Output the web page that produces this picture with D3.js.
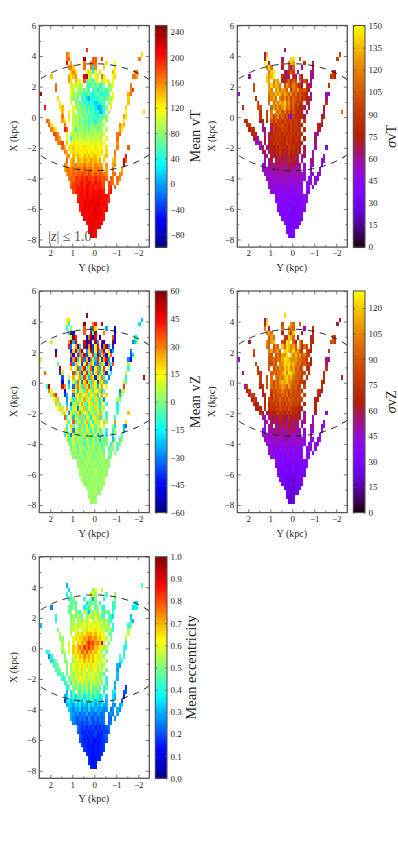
<!DOCTYPE html>
<html><head><meta charset="utf-8">
<script src="https://cdn.jsdelivr.net/npm/d3@7"></script>
<style>html,body{margin:0;background:#fff}svg{display:block}text{font-family:"Liberation Serif",serif;fill:#222}</style>
</head><body><svg id="c" width="398" height="865"></svg>
<script>
// Map bins: X rows start at row 2, Y columns are 0.1 kpc wide, X rows 0.29 kpc tall.
const firstRow=2;
const rowStarts=[[23],[22],[22],[21],[20],[19],[18],[18],[17],[17],[15,31],[14,31,34],[14,31,35],[13,32,35],[12,33,36],[11,33,37],[11,33,38],[12,33,38],[12,34,39],[11,34],[10,35,40],[8,35],[7,12,35],[6,12,35],[5,11,14,36],[4,11,13,36],[3,10,13,38],[10,13,38],[10,13,15,39,47],[2,9,15,39],[9,14,40],[8,14,40],[0,14,40],[7,14,24,41],[7,14,21,31,41],[13,20,28],[5,13,20,28,33,42],[14,21,27,33,43],[13,20,23,29,34],[12,14,20,23,30,34],[12,20,24,28,45],[12,46],[21]];
// Bins left empty in every panel: [row, column]
const emptyBins=[[35,16],[35,33],[34,32],[33,18],[32,15],[32,30],[31,31],[30,16],[30,30],[29,14],[29,31],[28,14],[28,29],[27,13],[27,14],[27,30],[26,14],[26,29],[25,13],[25,30],[24,13],[24,29],[23,11],[23,13],[23,30],[22,12],[22,29],[21,13],[21,29],[20,14],[20,28],[19,13],[19,16],[19,28],[18,13],[18,29],[17,29],[37,15],[37,32],[38,24]];

const meanVT=[
[[205,210,205]],
[[210,212,208,205]],
[[205,212,215,210,208,205]],
[[210,208,215,212,210,205,212,208]],
[[212,205,215,208,210,214,206,212,205,200]],
[[205,210,214,205,212,208,215,205,210,212,200]],
[[195,205,212,208,215,205,210,220,206,212,204,198,205]],
[[205,200,212,205,210,215,206,212,225,210,205,214,200]],
[[200,205,198,210,212,204,215,208,205,215,210,203,208,200,195]],
[[190,205,210,200,214,205,198,212,206,208,215,200,205,210,190]],
[[180,195,205,198,208,200,210,204,195,212,205,200,208,203,198],[190,205]],
[[175,188,192,200,195,205,190,208,200,195,205,188,200,196,190,185],[180,195],[170]],
[[170,180,195,185,198,205,190,200,210,195,188,205,192,198,185,178],[185,175,170],[165]],
[[165,175,170,185,190,180,195,188,200,185,192,178,195,182,190,175,180,170],[175,165],[170,160]],
[[155,170,165,175,168,180,172,185,178,170,190,175,165,182,170,178,172,165,160],[165,170],[160,155]],
[[150,165,170,160,172,158,175,165,155,180,160,168,172,150,165,170,158,162,155,150],[165],[150]],
[[165,150,160,145,155,165,148,158,150,165,145,155,160,140,165,150,155,148,150,155],[145,160],[225]],
[[175,150,140,155,135,150,142,130,150,145,135,155,140,148,130,150,145,135],[140,150],[230,175]],
[[150,160,130,145,125,140,135,120,140,128,145,125,135,140,120,130,135,125,140],[160],[205]],
[[165,145,135,125,130,120,135,115,128,122,135,118,125,130,115,128,120,135,125,130],[165]],
[[170,150,160,130,125,135,118,128,110,122,130,115,125,108,120,128,112,122,118,125,130],[165],[175]],
[[160,175,185,150,135,125,115,105,120,110,122,100,115,108,120,95,112,105,118,100,110,115,120],[155]],
[[175,165,150],[115,105,50,95,110,90,105,100,85,98,110,88,100,95,105,90,100,110,115],[170]],
[[190,175,160],[110,95,100,85,105,80,95,90,75,100,85,92,78,95,88,100,85,105,110],[165,175]],
[[165,140,120],[200,175],[95,105,40,90,80,95,70,85,60,88,75,92,65,80,90,75,95],[150,130]],
[[175,130],[165],[125,110,95,100,85,75,90,65,80,55,72,85,60,78,70,85,95,105],[160,130,145]],
[[175,160],[150,130],[120,105,90,80,95,70,85,60,75,50,68,55,30,72,60,85,70,90],[125]],
[[165],[130,110,95,85,100,70,90,62,75,55,70,45,60,35,65,50,72,80,95],[150,130]],
[[140],[125],[105,85,70,95,60,80,50,70,45,65,35,50,5,15,40,70,90],[120],[130]],
[[200],[125,140],[110,90,75,85,60,75,45,70,40,60,30,5,0,25,50,75,95,110],[130]],
[[125],[105,85,70,90,55,70,40,65,30,50,40,15,25,45,55,60,75,85,105],[140]],
[[135],[100,80,90,65,75,50,60,20,5,45,30,55,40,60,70,50,65,85,90,110],[135]],
[[230],[110,85,95,70,80,60,45,55,65,50,35,55,70,45,30,60,50,75,85,115],[150,170]],
[[175],[115,95,85,100,75,90,65,80,55],[40,70,25,65,55,75,45,80,85,100],[165,185]],
[[170],[130,105,95,110,85,100],[65,45,70,80,55,90,30,60,85],[75,95,110],[165]],
[[155,130,115,140,110,125],[175,60,85,70,40,95,120],[135,100,110,125,105,115]],
[[140],[150,125,140,155],[215,235,110,85,65,120,95],[165,130],[120,135],[170,165,150]],
[[140,160,130],[115,135,100,40,125],[130],[145,120],[165,170]],
[[155,165,135],[170],[165,20,160],[135],[125]],
[[210],[150],[165],[165,175,170],[130],[120]],
[[165,170],[240],[170,175],[185],[165]],
[[170,145],[130]],
[[190]]];

const sigmaVT=[
[[35,32,36]],
[[36,33,32,38]],
[[38,35,33,34,36,38]],
[[40,37,34,35,33,36,35,40]],
[[40,38,36,34,37,35,36,34,38,42]],
[[42,40,36,38,35,37,34,38,36,40,44]],
[[44,40,38,42,36,40,38,35,40,37,42,38,45]],
[[45,42,40,38,43,37,40,42,38,41,36,44,46]],
[[48,44,42,40,45,38,42,40,44,38,42,40,44,42,48]],
[[50,46,42,45,40,44,42,46,40,44,41,45,40,46,50]],
[[50,48,45,50,42,46,44,48,50,42,46,44,48,45,50],[45,50]],
[[52,50,48,45,52,46,50,44,55,48,45,52,46,50,48,44],[50,46],[48]],
[[54,52,48,55,46,52,50,58,46,52,50,48,55,50,46,52],[48,52,46],[50]],
[[58,54,50,55,52,60,48,55,50,62,52,48,58,50,55,52,48,50],[46,50],[52,48]],
[[52,58,55,50,60,54,62,52,58,50,65,55,60,52,58,55,62,50,54],[50,45],[48,52]],
[[48,55,60,52,58,65,55,62,50,68,58,55,72,60,52,65,58,55,62,50],[60],[45]],
[[50,52,62,58,65,55,70,60,72,58,68,62,75,58,70,62,55,65,60,52],[55,50],[45]],
[[55,62,58,70,65,72,60,78,65,75,62,82,68,72,60,78,65,58],[60,65],[50,55]],
[[60,68,58,72,65,75,62,82,70,78,65,85,72,68,80,65,75,60,68],[55],[45]],
[[62,65,72,58,78,68,82,72,88,75,80,68,90,75,82,70,85,72,78,65],[50]],
[[58,62,55,70,65,78,72,85,75,90,78,85,72,92,80,88,75,82,70,78,68],[60],[45]],
[[55,50,62,58,68,75,80,72,88,78,92,80,85,75,95,82,88,78,85,80,78,72,70],[65]],
[[72,65,58],[72,80,60,85,78,90,82,88,85,78,92,85,90,80,88,82,85,78,75],[70]],
[[78,82,70],[60,72,85,78,90,82,88,92,85,92,80,90,85,88,78,92,82,85,70],[58,62]],
[[72,85,80],[55,68],[88,60,92,82,90,85,95,88,92,80,95,85,90,82,88,78,82],[78,62]],
[[85,90],[62],[75,88,80,92,85,96,90,100,88,95,82,94,85,92,80,88,78,82],[80,75,68]],
[[80,85],[72,80],[85,92,102,92,106,90,98,85,102,90,88,96,82,92,80,88,75,85],[85]],
[[90],[95,105,118,95,110,122,100,112,90,105,60,55,95,82,88,75,85,70,78],[72,68]],
[[85],[95],[115,105,128,110,122,100,118,95,110,85,100,90,75,88,70,82,65],[75],[110]],
[[85],[95,100],[110,125,115,130,105,125,135,110,120,95,105,85,95,75,85,70,62,72],[72]],
[[95],[108,125,115,130,120,135,125,145,115,125,100,110,90,100,82,90,70,75,62],[85]],
[[85],[110,120,130,115,135,120,110,125,105,120,95,110,100,90,105,85,92,72,80,60],[60]],
[[50],[115,125,120,135,125,140,115,130,120,110,125,100,115,90,105,95,85,78,72,58],[50,58]],
[[95],[130,120,140,125,135,115,130,120,105],[90,115,105,125,100,95,110,85,72,62]],
[[100],[125,140,120,135,130,115],[100,125,110,95,120,105,90,85,72],[80,70,60],[85]],
[[140,130,145,120,135,125],[80,70,95,110,85,105,95],[115,60,100,85,70,60]],
[[60],[140,125,135,150],[85,75,55,70,100,85,60],[100,75],[65,60],[85,95,75]],
[[120,140,145],[70,65,85,105,90],[60],[55,65],[90,85]],
[[120,140,115],[70],[100,55,110],[60],[70]],
[[148],[75],[90],[120,140,130],[85],[70]],
[[65,150],[62],[140,145],[100],[95]],
[[60,135],[95]],
[[65]]];

const meanVZ=[
[[3,2,4]],
[[5,2,3,1]],
[[4,2,3,5,1,2]],
[[2,4,1,3,5,2,3,4]],
[[3,1,4,2,5,3,1,4,2,3]],
[[5,2,4,1,3,6,2,4,1,3,5]],
[[2,5,1,4,3,0,5,2,4,1,3,6,2]],
[[6,2,4,0,5,3,1,6,2,4,0,5,3]],
[[4,0,5,2,6,-1,3,5,1,4,-2,6,2,4,1]],
[[1,5,-2,4,2,6,0,3,5,-1,4,2,7,0,3]],
[[3,-3,6,1,5,-2,4,7,0,3,-3,5,2,6,1],[-5,3]],
[[8,0,4,-4,6,2,-3,5,1,7,-2,4,0,6,3,-5],[2,-6],[4]],
[[-3,6,2,-5,8,1,4,-6,5,0,7,-3,3,6,-4,2],[-8,4,1],[-6]],
[[5,-6,9,2,-4,7,0,-8,6,3,-5,8,1,-3,6,-12,3,0],[-12,4],[-5,2]],
[[10,-8,3,7,-4,10,0,5,-6,9,2,-8,6,-3,10,-20,4,-8,2],[-22,3],[-10,5]],
[[-15,12,-4,-30,15,5,-8,12,-5,8,-6,14,3,-10,9,-22,6,-5,12,-18],[-18],[-8]],
[[18,-10,-25,14,-28,6,20,-8,12,-5,18,2,-12,10,-5,15,-8,5,-18,-8],[-15,6],[-22]],
[[-8,-30,20,-2,18,5,-12,22,-5,10,-15,10,16,-6,5,14,-12,8],[5,-18],[-25,-32]],
[[15,-10,25,35,-5,2,18,-12,10,24,-6,12,-14,18,2,8,-10,22,5],[28],[18]],
[[35,-8,42,12,-22,16,5,-8,22,-10,14,8,-18,18,10,-4,24,-5,12,-6],[-8]],
[[8,20,38,-28,16,5,-6,18,30,-4,10,20,-12,5,16,-8,12,24,2,8,-10],[-4],[22]],
[[15,3,18,10,24,40,-12,8,16,-30,12,5,22,-8,14,8,-4,20,10,-14,12,5,-6],[-12]],
[[22,8,-5],[-22,14,-32,5,18,-8,12,24,2,-12,16,8,20,-4,12,-18,10,16,-5],[-15]],
[[15,3,25],[-28,18,10,-14,22,12,-6,16,26,5,12,20,-8,8,22,-14,12,-28,10],[8,-3]],
[[5,28,40],[-38,-24],[12,-30,18,10,24,2,14,20,-10,16,8,22,-18,12,26,-8,20],[-22,5]],
[[30,12],[-45],[18,-18,24,12,-22,18,8,-8,26,15,20,-12,16,8,24,-20,-5,15],[-30,18,5]],
[[-10,55],[48,28],[-18,8,-32,20,32,12,-16,24,5,36,-10,22,10,-22,16,26,-38,14],[38]],
[[-45],[-28,26,8,-14,34,15,-30,20,40,5,-16,26,12,-34,22,8,30,-20,12],[10,-5]],
[[-35],[8],[24,-36,12,28,-12,38,5,-22,26,18,-40,20,8,32,-14,24,-30],[-12],[50]],
[[32],[-38,18],[38,-18,12,30,-34,18,42,-8,24,-26,15,34,-18,8,30,-40,16,-12],[8]],
[[55],[20,-35,8,36,-22,24,44,-12,20,36,-36,12,28,-24,16,40,-30,5,-40],[-10]],
[[-5],[42,-28,22,5,34,-38,15,44,-16,26,10,-30,38,-18,22,8,-44,30,-12,36],[5]],
[[6],[-40,28,50,-18,15,40,-30,22,-42,32,8,-22,42,12,-36,26,48,-28,10,-44],[-30,-45]],
[[58],[32,-45,12,46,-22,28,50,-34,18],[40,-15,54,-30,22,36,-46,12,34,-40],[-35,-20]],
[[-50],[-42,22,48,-15,34,55],[-28,18,50,-38,12,44,-22,32,55],[20,-42,-25],[-30]],
[[42,-32,52,26,58,-20],[52,-48,28,58,-38,16,48],[-46,32,56,-28,52,-42]],
[[8],[28,58,-24,50],[46,-52,58,-44,28,54,-28],[54,-48],[56,-44],[-30,-20,5]],
[[5,58,42],[-52,32,58,-48,46],[-55],[38,-44],[-15,-8]],
[[-20,58,-45],[35],[55,-8,58],[30],[-55]],
[[-10],[0],[35],[-30,40,20],[-25],[-55]],
[[12,-15],[58],[30,45],[50],[-18]],
[[14,20],[-22]],
[[58]]];

const sigmaVZ=[
[[22,20,24]],
[[24,20,18,24]],
[[28,24,20,22,26,28]],
[[30,26,22,24,20,26,24,30]],
[[30,28,24,22,28,24,26,22,28,32]],
[[32,30,26,28,24,26,22,28,26,30,34]],
[[34,30,28,32,26,30,28,25,30,27,32,28,35]],
[[36,32,30,28,33,27,30,32,28,31,26,34,36]],
[[38,34,32,30,35,28,32,30,34,28,32,30,34,32,38]],
[[42,36,32,35,30,34,32,36,30,34,31,35,30,36,42]],
[[44,40,36,40,32,36,34,38,40,32,36,34,38,35,42],[38,42]],
[[46,42,38,36,42,36,40,34,42,38,35,42,36,40,38,36],[42,38],[40]],
[[46,44,40,44,36,42,40,46,36,42,40,38,44,40,36,42],[40,44,38],[42]],
[[48,44,42,46,44,48,40,44,42,50,44,40,46,42,44,42,40,42],[38,42],[44,40]],
[[44,48,46,42,50,44,52,42,48,40,54,44,50,42,46,44,52,42,44],[40,38],[40,44]],
[[42,46,50,44,48,54,46,52,42,56,48,44,58,50,44,54,46,44,52,42],[48],[40]],
[[40,44,50,48,54,46,58,50,60,46,56,52,62,48,58,50,44,52,48,44],[44,40],[38]],
[[42,50,46,56,52,60,48,64,54,62,50,66,56,58,48,62,52,46],[48,52],[42,44]],
[[46,54,46,58,52,62,50,66,56,64,52,68,58,54,64,52,60,48,54],[44],[40]],
[[48,50,58,46,62,54,66,58,70,60,64,54,72,60,66,56,68,58,62,52],[42]],
[[70,66,72,58,62,68,64,72,80,68,74,62,78,70,80,66,72,60,68,58,52],[62],[40]],
[[60,66,70,78,72,68,74,78,70,82,72,88,78,84,74,88,80,76,70,72,66,60,55],[66]],
[[70,65,62],[72,78,68,82,76,88,80,92,84,78,90,84,94,80,86,78,80,74,70],[66]],
[[62,78,74],[68,75,85,78,88,82,86,95,85,92,80,96,84,88,78,90,80,82,72],[62,66]],
[[70,82,78],[62,72],[88,72,92,82,90,85,96,88,102,80,95,85,90,82,86,76,80],[72,60]],
[[62,80],[68],[78,86,80,92,85,98,90,105,88,95,82,98,85,90,80,86,76,80],[78,68,62]],
[[50,80],[72,78],[84,90,98,88,100,90,102,110,105,92,112,98,90,95,80,86,74,82],[72]],
[[78],[88,92,100,86,102,92,110,116,112,120,108,102,95,88,92,78,82,72,76],[72,66]],
[[80],[84],[96,88,104,92,106,100,115,122,108,118,100,95,92,88,80,84,70],[72],[60]],
[[52],[82,78],[92,100,88,104,94,112,124,105,125,122,110,98,88,95,82,84,72,70],[68]],
[[78],[88,98,86,100,92,108,100,122,112,124,104,112,92,102,84,88,76,74,66],[80]],
[[82],[90,82,96,86,92,100,108,124,120,125,112,118,102,94,100,84,92,76,78,68],[56]],
[[46],[86,92,100,88,102,96,112,125,122,118,110,105,112,98,100,94,86,80,74,62],[52,60]],
[[78],[96,84,104,90,100,90,112,106,124],[125,105,118,100,112,90,102,82,76,64]],
[[88],[100,112,92,104,108,92],[120,125,118,105,124,100,110,88,74],[82,72,62],[78]],
[[100,92,110,88,104,94],[118,96,125,120,105,112,90],[108,70,98,86,74,68]],
[[62],[104,92,110,118],[88,72,125,118,100,92,64],[104,80],[72,68],[86,90,78]],
[[92,110,100],[80,70,124,118,96],[60],[58,72],[88,80]],
[[100,112,98],[64],[104,76,120],[60],[72]],
[[100],[60],[95],[110,104,94],[45],[72]],
[[70,125],[84],[108,96],[92],[60]],
[[48,118],[60]],
[[124]]];

const meanEcc=[
[[.16,.15,.14]],
[[.17,.14,.13,.15]],
[[.16,.14,.13,.14,.15,.16]],
[[.17,.15,.14,.13,.15,.14,.16,.17]],
[[.18,.16,.14,.15,.13,.15,.14,.16,.15,.18]],
[[.19,.16,.15,.14,.16,.13,.15,.14,.16,.15,.19]],
[[.2,.17,.15,.16,.14,.17,.15,.13,.16,.14,.17,.16,.2]],
[[.21,.18,.16,.15,.17,.15,.16,.18,.14,.17,.15,.19,.22]],
[[.22,.19,.17,.16,.18,.15,.17,.16,.19,.15,.18,.16,.19,.18,.22]],
[[.24,.2,.18,.19,.16,.19,.17,.2,.16,.19,.17,.2,.17,.21,.24]],
[[.26,.23,.2,.22,.18,.21,.19,.22,.24,.18,.21,.19,.22,.2,.24],[.22,.25]],
[[.3,.26,.22,.2,.25,.21,.24,.19,.27,.22,.2,.25,.21,.24,.22,.24],[.24,.22],[.27]],
[[.3,.28,.24,.28,.22,.27,.25,.3,.22,.26,.24,.23,.28,.25,.22,.26],[.25,.28,.24],[.29]],
[[.33,.3,.26,.3,.28,.33,.25,.29,.26,.34,.28,.25,.31,.27,.29,.27,.25,.27],[.24,.27],[.3,.26]],
[[.3,.34,.32,.28,.36,.3,.38,.29,.33,.27,.4,.31,.36,.28,.33,.3,.36,.27,.3],[.28,.25],[.29,.32]],
[[.18,.35,.38,.31,.35,.42,.33,.4,.3,.44,.36,.33,.46,.38,.31,.42,.35,.33,.38,.3],[.33],[.2]],
[[.3,.33,.4,.36,.44,.34,.48,.4,.5,.36,.46,.4,.52,.37,.47,.4,.35,.43,.38,.33],[.35,.3],[.15]],
[[.3,.4,.37,.48,.43,.52,.4,.55,.44,.52,.4,.56,.46,.48,.4,.54,.43,.37],[.36,.4],[.2,.22]],
[[.38,.46,.4,.52,.46,.55,.42,.58,.48,.55,.44,.6,.5,.46,.56,.44,.52,.4,.46],[.3],[.18]],
[[.42,.45,.52,.4,.56,.47,.6,.5,.62,.52,.56,.46,.62,.52,.58,.48,.6,.5,.54,.42],[.3]],
[[.42,.44,.5,.48,.56,.52,.6,.54,.62,.56,.64,.52,.6,.55,.63,.52,.58,.5,.55,.46,.42],[.3],[null]],
[[.42,.45,.48,.5,.46,.54,.58,.5,.62,.56,.65,.54,.6,.52,.64,.56,.62,.54,.6,.5,.52,.46,.44],[.32]],
[[.44,.46,.5],[.5,.58,.5,.6,.54,.63,.58,.66,.56,.62,.54,.66,.56,.62,.52,.6,.54,.5,.48],[.28]],
[[.42,.46,.5],[.5,.58,.52,.62,.56,.65,.6,.66,.6,.66,.56,.66,.6,.64,.54,.6,.52,.56,.5],[.3,.28]],
[[.35,.45,.5],[.5,.54],[.6,.52,.64,.58,.66,.62,.7,.64,.68,.6,.7,.62,.64,.56,.62,.52,.54],[.38,.4]],
[[.26,.42],[.5],[.56,.62,.58,.66,.62,.7,.66,.74,.68,.72,.64,.7,.62,.66,.56,.6,.5,.54],[.45,null,.42]],
[[.38,.45],[.52,.56],[.58,.64,.68,.64,.7,.68,.78,.72,.8,.7,.74,.66,.7,.6,.64,.54,.56,.48],[.42]],
[[.55],[.6,.64,.68,.62,.7,.76,.7,.82,.76,.84,.74,.78,.68,.7,.6,.64,.5,.55,.48],[.42,.38]],
[[.55],[.56],[.64,.6,.68,.62,.72,.68,.78,.84,.78,.82,.72,.76,.66,.9,.58,.6,.5],[.42],[null]],
[[null],[.55,.5],[.6,.66,.6,.68,.66,.72,.7,.78,.74,.7,.74,.66,.7,.62,.64,.56,.5,.5],[.55]],
[[.54],[.56,.62,.58,.66,.6,.68,.64,.7,.68,.72,.64,.7,.62,.66,.58,.6,.54,.5,.48],[.58]],
[[.5],[.54,.58,.62,.56,.62,.6,.56,.66,.62,.64,.6,.66,.6,.62,.56,.6,.5,.55,.48,.42],[.55]],
[[.3],[.52,.56,.6,.54,.6,.56,.62,.54,.6,.64,.58,.6,.62,.56,.58,.52,.56,.5,.48,.4],[.4,.5]],
[[.42],[.5,.54,.58,.52,.56,.5,.6,.54,.62],[.6,.56,.62,.52,.58,.5,.54,.46,.44,.4],[.4,.3]],
[[.4],[.48,.54,.5,.56,.52,.46],[.52,.58,.55,.48,.62,.5,.56,.46,.42],[.44,.4,.35],[.32]],
[[.46,.52,.44,.5,.48,.42],[.58,.45,.32,.55,.5,.56,.48],[.5,.42,.52,.46,.4,.42]],
[[.25],[.5,.44,.52,.46],[.38,.48,.4,.56,.5,.46,.54],[.45,.38],[.4,.46],[.35,.38,.4]],
[[.46,.5,.44],[.36,.5,.44,.52,.48],[.42],[.4,.48],[.36,.34]],
[[.36,.44,.5],[.42],[.46,.3,.52],[.4],[.48]],
[[.4],[.48],[null],[.56,.62,.52],[.45],[.52]],
[[null,.35],[null],[.5,.6],[.55],[null]],
[[.3,null],[.45]],
[[null]]];

const yTicks=[-8,-6,-4,-2,0,2,4,6], yMinor=[-7,-5,-3,-1,1,3,5];
const xTicks=[2,1,0,-1,-2], xMinor=[1.5,.5,-.5,-1.5];
const vtTicks=[-80,-40,0,40,80,120,160,200,240];
const svtTicks=[0,15,30,45,60,75,90,105,120,135,150];
const vzTicks=[-60,-45,-30,-15,0,15,30,45,60];
const szTicks=[0,15,30,45,60,75,90,105,120];
const eTicks=[0,.1,.2,.3,.4,.5,.6,.7,.8,.9,1];
const circleRadius=3.5, dy=.1, dx=.29, yEdge=2.5, xEdge=-8.5;

const clip=v=>Math.max(0,Math.min(1,v));
const rgb=(r,g,b)=>`rgb(${Math.round(255*clip(r))},${Math.round(255*clip(g))},${Math.round(255*clip(b))})`;
const jet=t=>rgb(1.5-Math.abs(4*t-3),1.5-Math.abs(4*t-2),1.5-Math.abs(4*t-1));
const gnuplot=t=>rgb(Math.sqrt(t),t*t*t,Math.sin(2*Math.PI*t));

const panels=[
 {data:meanVT,x:39.3,y:25.5,cmap:jet,dom:[-100,250],ticks:vtTicks,label:"Mean vT",lx:197,note:true},
 {data:sigmaVT,x:237.3,y:25.5,cmap:gnuplot,dom:[0,150],ticks:svtTicks,label:"σvT",lx:393,sig:true},
 {data:meanVZ,x:39.3,y:291,cmap:jet,dom:[-60,60],ticks:vzTicks,label:"Mean vZ",lx:197},
 {data:sigmaVZ,x:237.3,y:291,cmap:gnuplot,dom:[0,130],ticks:szTicks,label:"σvZ",lx:393,sig:true},
 {data:meanEcc,x:39.3,y:556.7,cmap:jet,dom:[0,1],ticks:eTicks,label:"Mean eccentricity",lx:193,fmt:d3.format(".1f")}
];
const empty=new Set(emptyBins.map(b=>b.join()));
const W=110,H=221.6,CW=11.7,CGAP=16;
const svg=d3.select("#c");
const frame="#555";
const intFmt=d3.format("d");
function style(g){g.select(".domain").remove();g.selectAll("line").attr("stroke",frame).attr("stroke-width",.8);g.selectAll("text").attr("font-size",9).attr("fill","#222");}

panels.forEach(p=>{
 const g=svg.append("g");
 const xs=d3.scaleLinear([2.5,-2.5],[p.x,p.x+W]);
 const ys=d3.scaleLinear([-8.5,6],[p.y+H,p.y]);
 const col=d3.scaleSequential(p.dom,p.cmap);
 const cells=[];
 p.data.forEach((row,ri)=>row.forEach((seg,si)=>seg.forEach((v,k)=>{
   const i=ri+firstRow,j=rowStarts[ri][si]+k;
   if(v===null||v===undefined||empty.has(i+","+j))return;
   cells.push({i,j,v});
 })));
 g.selectAll("rect.c").data(cells).join("rect").attr("class","c")
  .attr("x",d=>xs(yEdge-dy*d.j)).attr("width",d=>xs(yEdge-dy*(d.j+1))-xs(yEdge-dy*d.j))
  .attr("y",d=>ys(xEdge+dx*(d.i+1))).attr("height",d=>ys(xEdge+dx*d.i)-ys(xEdge+dx*(d.i+1)))
  .attr("fill",d=>col(d.v)).attr("shape-rendering","crispEdges");

 // dashed circle of radius 3.5 kpc
 const samples=d3.range(-2.5,2.5001,.05);
 [1,-1].forEach(sgn=>{
  g.append("path").datum(samples)
   .attr("d",d3.line().x(d=>xs(d)).y(d=>ys(sgn*Math.sqrt(circleRadius*circleRadius-d*d))))
   .attr("fill","none").attr("stroke","#000").attr("stroke-width",.9).attr("stroke-dasharray","6.5,5.5");
 });

 // axes
 const tk=3.5,mt=2;
 style(g.append("g").attr("transform",`translate(0,${p.y+H})`).call(d3.axisBottom(xs).tickValues(xTicks).tickFormat(intFmt).tickSize(-tk).tickPadding(3)));
 style(g.append("g").attr("transform",`translate(0,${p.y+H})`).call(d3.axisBottom(xs).tickValues(xMinor).tickSize(-mt).tickFormat("")));
 style(g.append("g").attr("transform",`translate(0,${p.y})`).call(d3.axisTop(xs).tickValues(xTicks).tickSize(-tk).tickFormat("")));
 style(g.append("g").attr("transform",`translate(0,${p.y})`).call(d3.axisTop(xs).tickValues(xMinor).tickSize(-mt).tickFormat("")));
 style(g.append("g").attr("transform",`translate(${p.x},0)`).call(d3.axisLeft(ys).tickValues(yTicks).tickFormat(intFmt).tickSize(-tk).tickPadding(3)));
 style(g.append("g").attr("transform",`translate(${p.x},0)`).call(d3.axisLeft(ys).tickValues(yMinor).tickSize(-mt).tickFormat("")));
 style(g.append("g").attr("transform",`translate(${p.x+W},0)`).call(d3.axisRight(ys).tickValues(yTicks).tickSize(-tk).tickFormat("")));
 style(g.append("g").attr("transform",`translate(${p.x+W},0)`).call(d3.axisRight(ys).tickValues(yMinor).tickSize(-mt).tickFormat("")));
 g.append("rect").attr("x",p.x).attr("y",p.y).attr("width",W).attr("height",H).attr("fill","none").attr("stroke",frame).attr("stroke-width",1.3);

 g.append("text").attr("x",p.x+W/2-.5).attr("y",p.y+H+24).attr("text-anchor","middle").attr("font-size",10).text("Y (kpc)");
 g.append("text").attr("transform",`translate(${p.x-22.5},${p.y+H/2}) rotate(-90)`).attr("text-anchor","middle").attr("font-size",10).text("X (kpc)");

 if(p.note){
  const t=g.append("text").attr("x",p.x+9).attr("y",p.y+H-6.5).attr("font-size",14).style("fill","#555");
  t.append("tspan").text("|");t.append("tspan").attr("font-style","italic").text("z");t.append("tspan").text("| ≤ 1.0");
 }

 // colorbar
 const cx=p.x+W+CGAP-10;
 const cs=d3.scaleLinear(p.dom,[p.y+H,p.y]);
 const n=160, steps=d3.range(n);
 g.selectAll("rect.b").data(steps).join("rect").attr("class","b").attr("x",cx).attr("width",CW)
  .attr("y",k=>p.y+H*(n-1-k)/n).attr("height",H/n+.4)
  .attr("fill",k=>p.cmap((k+.5)/n)).attr("shape-rendering","crispEdges");
 const cax=d3.axisRight(cs).tickValues(p.ticks).tickSize(0).tickPadding(3.5);
 if(p.fmt)cax.tickFormat(p.fmt);
 style(g.append("g").attr("transform",`translate(${cx+CW},0)`).call(cax));
 style(g.append("g").attr("transform",`translate(${cx+CW},0)`).call(d3.axisRight(cs).tickValues(p.ticks).tickSize(-2).tickFormat("")));
 style(g.append("g").attr("transform",`translate(${cx},0)`).call(d3.axisRight(cs).tickValues(p.ticks).tickSize(2).tickFormat("")));
 g.append("rect").attr("x",cx).attr("y",p.y).attr("width",CW).attr("height",H).attr("fill","none").attr("stroke",frame).attr("stroke-width",1.1);

 const lab=g.append("text").attr("transform",`translate(${p.lx},${p.y+H/2}) rotate(-90)`).attr("text-anchor","middle").attr("dominant-baseline","middle").attr("font-size",14.5);
 if(p.sig){lab.append("tspan").attr("font-style","italic").text("σ");lab.append("tspan").text(p.label.slice(1));}
 else lab.text(p.label);
});
</script></body></html>
